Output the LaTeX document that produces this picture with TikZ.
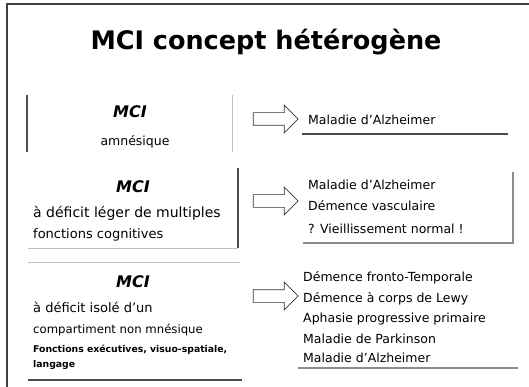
\documentclass[tikz,border=0pt]{standalone}
\usepackage{fontspec}
\setmainfont{DejaVu Sans}
\usetikzlibrary{shapes.arrows}
\tikzset{
  frameline/.style={draw=black!75, line width=1.2pt},
  darkline/.style={draw=black!70, line width=1.1pt},
  lightline/.style={draw=black!25, line width=0.9pt},
  grayline/.style={draw=black!45, line width=1.1pt},
  hollow/.style={single arrow, draw=black!80, line width=0.7pt, fill=white,
    minimum height=45pt, inner xsep=0pt, inner ysep=6pt,
    single arrow head extend=7.5pt, single arrow head indent=0pt},
  mci/.style={font=\bfseries\itshape\fontsize{16}{18}\selectfont},
  lefttxt/.style={anchor=west, inner sep=0pt, font=\fontsize{13}{15}\selectfont},
  righttxt/.style={anchor=west, inner sep=0pt, font=\fontsize{12.5}{14}\selectfont},
}
\begin{document}
\begin{tikzpicture}[x=1pt,y=-1pt]
\useasboundingbox[fill=white] (0,0) rectangle (529,387);
% outer frame
\coordinate (fa) at (7,387);
\coordinate (fb) at (7,4);
\coordinate (fc) at (529,4);
\draw[frameline] (fa) -- (fb) -- (fc);
% title
\node[font=\bfseries\fontsize{25.5}{29}\selectfont] (title) at (266,42) {MCI concept hétérogène};

% ---- row 1
\coordinate (l1a) at (27,95);  \coordinate (l1b) at (27,152);
\draw[darkline] (l1a) -- (l1b);
\coordinate (r1a) at (232,95); \coordinate (r1b) at (232,152);
\draw[lightline] (r1a) -- (r1b);
\node[mci] (m1) at (130,112) {MCI};
\node[font=\fontsize{12.5}{14}\selectfont] (t1) at (135,142) {amnésique};
\node[hollow] (a1) at (272.5,119) {};
\node[righttxt] (d1) at (308,120) {Maladie d'Alzheimer};
\coordinate (u1a) at (302,134); \coordinate (u1b) at (508,134);
\draw[darkline] (u1a) -- (u1b);

% ---- row 2
\coordinate (v2a) at (238,168); \coordinate (v2b) at (238,248);
\coordinate (v2c) at (28,248);
\draw[darkline] (v2a) -- (v2b);
\draw[lightline] (v2c) -- (v2b);
\node[mci] (m2) at (133,187) {MCI};
\node[lefttxt, font=\fontsize{14}{16}\selectfont] (t2a) at (33,213) {à déficit léger de multiples};
\node[lefttxt] (t2b) at (33,235) {fonctions cognitives};
\node[hollow] (a2) at (272.5,201) {};
\node[righttxt] (d2a) at (308,185) {Maladie d'Alzheimer};
\node[righttxt] (d2b) at (308,206) {Démence vasculaire};
\node[righttxt] (d2c) at (308,229) {? Vieillissement normal !};
\coordinate (b2a) at (303,243); \coordinate (b2b) at (513,243);
\coordinate (b2c) at (513,172);
\draw[grayline] (b2a) -- (b2b) -- (b2c);

% ---- row 3
\coordinate (t3a) at (28,262); \coordinate (t3b) at (240,262);
\draw[lightline] (t3a) -- (t3b);
\coordinate (b3a) at (28,380); \coordinate (b3b) at (242,380);
\draw[darkline] (b3a) -- (b3b);
\node[mci] (m3) at (133,282) {MCI};
\node[lefttxt] (t3l1) at (33,307) {à déficit isolé d'un};
\node[lefttxt, font=\fontsize{11.7}{14}\selectfont] (t3l2) at (33,330) {compartiment non mnésique};
\node[anchor=west, inner sep=0pt, align=left, font=\bfseries\fontsize{9.3}{15}\selectfont] (t3s) at (33,357)
  {Fonctions exécutives, visuo-spatiale,\\langage};
\node[hollow] (a3) at (272.5,296) {};
\node[righttxt] (d3a) at (303,278) {Démence fronto-Temporale};
\node[righttxt] (d3b) at (303,299) {Démence à corps de Lewy};
\node[righttxt] (d3c) at (303,319) {Aphasie progressive primaire};
\node[righttxt] (d3d) at (303,339) {Maladie de Parkinson};
\node[righttxt] (d3e) at (303,358) {Maladie d'Alzheimer};
\coordinate (u3a) at (298,368); \coordinate (u3b) at (518,368);
\draw[grayline] (u3a) -- (u3b);
\end{tikzpicture}
\end{document}
